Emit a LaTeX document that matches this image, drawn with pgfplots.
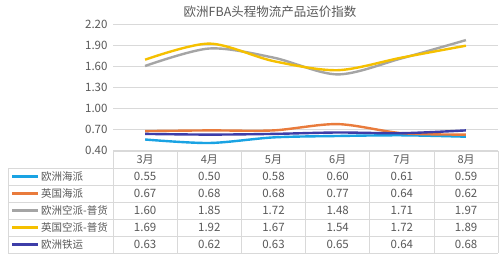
\documentclass[border=0pt]{standalone}
\usepackage{pgfplots}
\usepackage{pgfplotstable}
\pgfplotsset{compat=1.18}
\usepackage{fontspec}
\setmainfont{Noto Sans CJK SC}
\definecolor{cA}{HTML}{1AA3E3}
\definecolor{cB}{HTML}{E97B3C}
\definecolor{cC}{HTML}{A5A5A5}
\definecolor{cD}{HTML}{F5C000}
\definecolor{cE}{HTML}{3D3DA8}
\definecolor{txt}{HTML}{595959}
\definecolor{grd}{HTML}{D9D9D9}
\pgfplotstableread{
m a b c d e
0 0.55 0.67 1.60 1.69 0.63
1 0.50 0.68 1.85 1.92 0.62
2 0.58 0.68 1.72 1.67 0.63
3 0.60 0.77 1.48 1.54 0.65
4 0.61 0.64 1.71 1.72 0.64
5 0.59 0.62 1.97 1.89 0.68
}\data
\begin{document}
\begin{tikzpicture}
\fill[white] (0pt,0pt) rectangle (500pt,260pt);
\begin{axis}[at={(113pt,110pt)}, anchor=south west, scale only axis,
  width=385pt, height=126pt, xmin=-0.5, xmax=5.5, ymin=0.4, ymax=2.2,
  ytick={0.4,0.7,1.0,1.3,1.6,1.9,2.2}, xtick=\empty,
  axis line style={draw=none}, ymajorgrids, grid style={grd, line width=0.8pt},
  major tick length=0pt,
  /pgf/number format/assume math mode=true,
  yticklabel style={/pgf/number format/.cd, fixed, fixed zerofill, precision=2, /tikz/.cd,
    font=\fontsize{11.5}{13}\selectfont, text=txt, xshift=-2pt},
  clip=false]
\addplot[cA, line width=2.4pt, smooth] table[x=m,y=a]{\data};
\addplot[cB, line width=2.4pt, smooth] table[x=m,y=b]{\data};
\addplot[cC, line width=2.4pt, smooth] table[x=m,y=c]{\data};
\addplot[cD, line width=2.4pt, smooth] table[x=m,y=d]{\data};
\addplot[cE, line width=2.4pt, smooth] table[x=m,y=e]{\data};
\end{axis}
\begin{scope}[x=1pt,y=1pt]
\node[text=txt, font=\fontsize{12.5}{14}\selectfont] at (270,248) {欧洲FBA头程物流产品运价指数};
\draw[grd, line width=0.7pt] (113,109) -- (498,109);
\foreach \yy in {92,75,58,41,24,7} {\draw[grd, line width=0.7pt] (8,\yy) -- (498,\yy);}
\draw[grd, line width=0.7pt] (8,92) -- (8,7);
\foreach \k in {0,...,6} {\draw[grd, line width=0.7pt] (113+64.2*\k,109) -- (113+64.2*\k,7);}
\foreach \i in {0,...,5} {
  \pgfmathtruncatemacro{\mon}{\i+3}
  \node[text=txt, font=\fontsize{11}{12}\selectfont] at (113+64.2*\i+32.1,100.5) {\mon 月};
}
\foreach \col/\name/\c [count=\r from 0] in {a/欧洲海派/cA, b/英国海派/cB, c/欧洲空派-普货/cC, d/英国空派-普货/cD, e/欧洲铁运/cE} {
  \pgfmathsetmacro{\yc}{83.5-17*\r}
  \draw[\c, line width=2.4pt] (12,\yc) -- (38,\yc);
  \node[anchor=west, text=txt, font=\fontsize{10.5}{12}\selectfont, inner sep=0pt] at (41,\yc) {\name};
  \foreach \i in {0,...,5} {
    \pgfplotstablegetelem{\i}{\col}\of\data
    \node[text=txt, font=\fontsize{11.5}{13}\selectfont] at (113+64.2*\i+32.1,\yc) {\pgfplotsretval};
  }
}
\end{scope}
\end{tikzpicture}
\end{document}
